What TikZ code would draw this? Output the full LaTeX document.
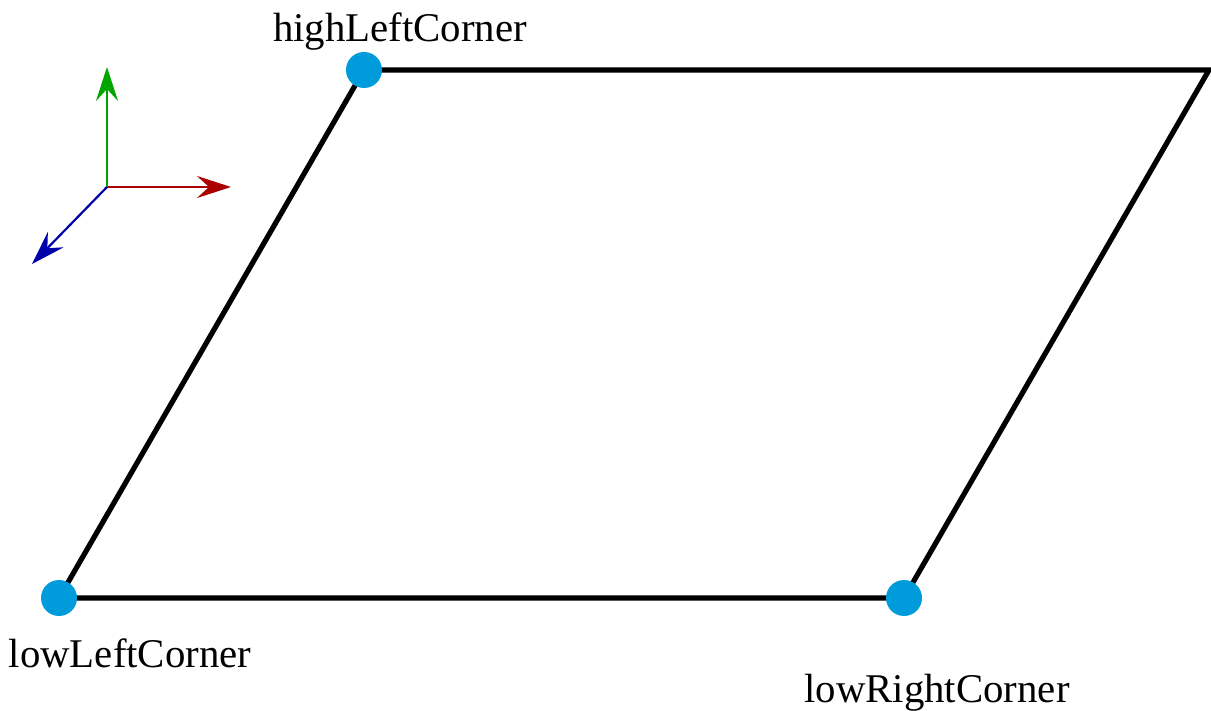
\documentclass[tikz,border=0pt]{standalone}
\usepackage{fontspec}
\setmainfont{Liberation Serif}
\usepackage{xcolor}
\usetikzlibrary{arrows.meta,positioning}
\definecolor{dotblue}{RGB}{0,155,219}
\definecolor{axred}{RGB}{170,0,0}
\definecolor{axgreen}{RGB}{0,165,0}
\definecolor{axblue}{RGB}{0,0,170}
\tikzset{
  corner/.style ={circle,fill=dotblue,inner sep=0pt,minimum size=18pt},
  edge/.style   ={line width=2.6pt,black},
  axis/.style   ={-{Stealth[length=17pt,width=11pt,inset=6pt]},line width=1.1pt},
  lbl/.style    ={font=\fontsize{20.4}{24}\selectfont,anchor=base,inner sep=0pt},
}
\begin{document}
\begin{tikzpicture}[x=0.5pt,y=-0.5pt]
  \useasboundingbox (0,0) rectangle (1211,711);
  % parallelogram
  \coordinate (hrc) at (1209,70);
  \draw[edge] (59,598) -- (364,70) -- (hrc) -- (904,598) -- cycle;
  \node[corner] (hlc) at (364,70) {};
  \node[corner] (llc) at (59,598) {};
  \node[corner] (lrc) at (904,598) {};
  % labels
  \node[lbl] (hlcLbl) at (400,42)  {highLeftCorner};
  \node[lbl] (llcLbl) at (130,667) {lowLeftCorner};
  \node[lbl] (lrcLbl) at (937,702) {lowRightCorner};
  % axes
  \coordinate (o) at (107,187);
  \coordinate (ax) at (231,187);
  \coordinate (ay) at (107,67);
  \coordinate (az) at (32,264);
  \draw[axis,axred]   (o) -- (ax);
  \draw[axis,axgreen] (o) -- (ay);
  \draw[axis,axblue]  (o) -- (az);
\end{tikzpicture}
\end{document}
